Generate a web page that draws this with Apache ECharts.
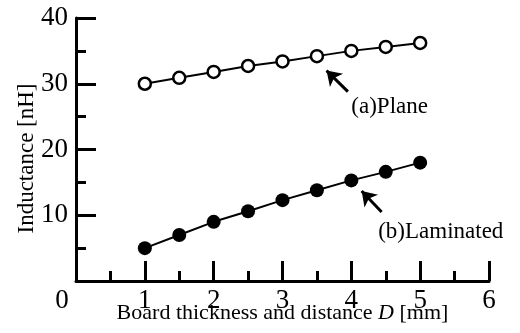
<!DOCTYPE html>
<html>
<head>
<meta charset="utf-8">
<script src="https://cdn.jsdelivr.net/npm/echarts@6/dist/echarts.min.js"></script>
<style>
  html, body { margin: 0; padding: 0; background: #fff; }
  #chart { width: 520px; height: 333px; }
</style>
</head>
<body>
<div id="chart"></div>
<script>
// board thickness / distance D [mm]
const thickness = [1, 1.5, 2, 2.5, 3, 3.5, 4, 4.5, 5];
// inductance [nH]
const planeL = [30.0, 30.9, 31.8, 32.7, 33.4, 34.2, 35.0, 35.6, 36.2];
const laminatedL = [5.0, 7.0, 9.0, 10.6, 12.3, 13.8, 15.3, 16.6, 18.0];

const font = "Liberation Serif";

let chart = echarts.init(document.getElementById("chart"));

function pairs(ys) {
  return thickness.map((x, i) => [x, ys[i]]);
}

let axisCommon = {
  type: "value",
  nameMoveOverlap: false,
  axisLine: { show: true, lineStyle: { color: "#000", width: 3 } },
  axisTick: { show: true, inside: true, length: 20, lineStyle: { color: "#000", width: 3 } },
  minorTick: { show: true, splitNumber: 2, length: 10, lineStyle: { color: "#000", width: 3 } },
  splitLine: { show: false },
  minorSplitLine: { show: false }
};

let option = {
  animation: false,
  grid: { left: 76, right: 31, top: 18, bottom: 52, outerBoundsMode: "none" },
  xAxis: Object.assign({}, axisCommon, {
    min: 0,
    max: 6,
    interval: 1,
    name: "Board thickness and distance {i|D} [mm]",
    nameLocation: "middle",
    nameGap: 21,
    nameTextStyle: {
      fontFamily: font, fontSize: 22, color: "#000",
      rich: { i: { fontFamily: font, fontSize: 22, fontStyle: "italic", color: "#000" } }
    },
    axisLabel: {
      fontFamily: font,
      fontSize: 27,
      color: "#000",
      margin: 6,
      formatter: function (v) { return v === 0 ? "{z|0}" : String(v); },
      rich: { z: { fontFamily: font, fontSize: 27, color: "#000", padding: [0, 28, 0, 0] } }
    }
  }),
  yAxis: Object.assign({}, axisCommon, {
    min: 0,
    max: 40,
    interval: 10,
    name: "Inductance [nH]",
    nameLocation: "middle",
    nameGap: 38,
    nameTextStyle: { fontFamily: font, fontSize: 23, color: "#000", padding: [0, 18, 0, 0] },
    axisLabel: { fontFamily: font, fontSize: 27, color: "#000", margin: 8, showMinLabel: false }
  }),
  series: [
    {
      name: "(a)Plane",
      type: "line",
      data: pairs(planeL),
      symbol: "circle",
      symbolSize: 12,
      lineStyle: { color: "#000", width: 2 },
      itemStyle: { color: "#fff", borderColor: "#000", borderWidth: 2.5 },
      markLine: {
        silent: true,
        symbol: ["none", "arrow"],
        symbolSize: 14,
        lineStyle: { color: "#000", width: 3, type: "solid" },
        label: { show: false },
        data: [[{ coord: [3.95, 28.8] }, { coord: [3.64, 32.0] }]]
      },
      markPoint: {
        silent: true,
        symbol: "circle",
        symbolSize: 0,
        label: { show: true, position: "right", distance: 0, formatter: "(a)Plane",
          fontFamily: font, fontSize: 23, color: "#000" },
        data: [{ coord: [4.0, 26.5] }]
      }
    },
    {
      name: "(b)Laminated",
      type: "line",
      data: pairs(laminatedL),
      symbol: "circle",
      symbolSize: 14,
      lineStyle: { color: "#000", width: 2 },
      itemStyle: { color: "#000", borderColor: "#000", borderWidth: 0 },
      markLine: {
        silent: true,
        symbol: ["none", "arrow"],
        symbolSize: 14,
        lineStyle: { color: "#000", width: 3, type: "solid" },
        label: { show: false },
        data: [[{ coord: [4.44, 10.5] }, { coord: [4.15, 13.7] }]]
      },
      markPoint: {
        silent: true,
        symbol: "circle",
        symbolSize: 0,
        label: { show: true, position: "right", distance: 0, formatter: "(b)Laminated",
          fontFamily: font, fontSize: 23, color: "#000" },
        data: [{ coord: [4.39, 7.5] }]
      }
    }
  ]
};

chart.setOption(option);
</script>
</body>
</html>
